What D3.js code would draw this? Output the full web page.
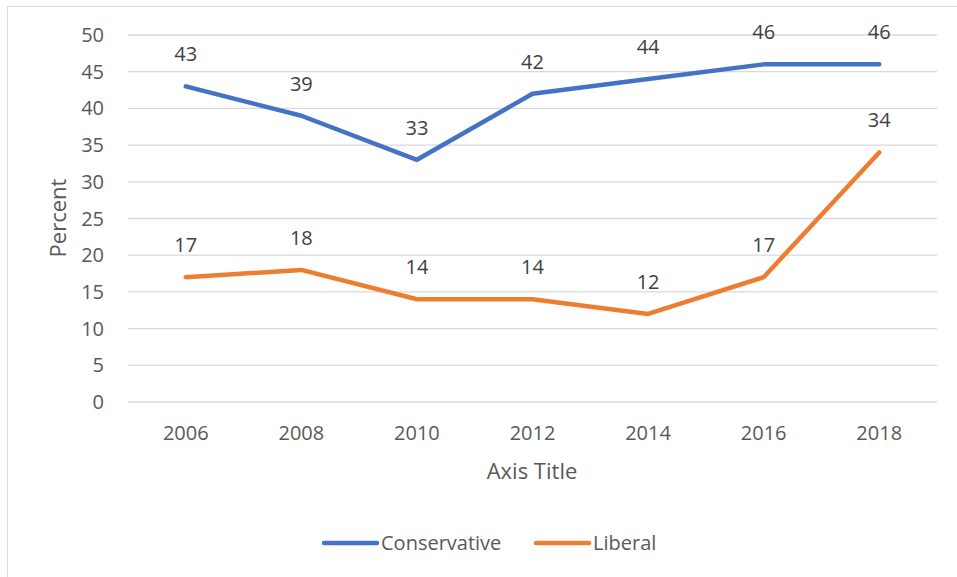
<!DOCTYPE html>
<html lang="en">
<head>
<meta charset="UTF-8">
<title>Chart</title>
<script src="https://d3js.org/d3.v7.min.js"></script>
<style>
  body { margin: 0; background: #fff; }
  text { font-family: "Open Sans", sans-serif; }
</style>
</head>
<body>
<script>
var years = ["2006", "2008", "2010", "2012", "2014", "2016", "2018"];
var conservative = [43, 39, 33, 42, 44, 46, 46];
var liberal = [17, 18, 14, 14, 12, 17, 34];
var yTicks = [0, 5, 10, 15, 20, 25, 30, 35, 40, 45, 50];
var seriesNames = ["Conservative", "Liberal"];
var colors = ["#4472C4", "#ED7D31"];

var width = 957, height = 577;
var svg = d3.select("body").append("svg")
    .attr("width", width)
    .attr("height", height);

// outer chart border
svg.append("rect")
    .attr("x", 7.5).attr("y", 6.5)
    .attr("width", 960).attr("height", 580)
    .attr("fill", "#fff")
    .attr("stroke", "#d9d9d9");

var x = d3.scaleBand().domain(years).range([128, 937]);
var y = d3.scaleLinear().domain([0, 50]).range([402, 35]);

// gridlines
svg.append("g").selectAll("line")
    .data(yTicks)
    .enter().append("line")
    .attr("x1", 128).attr("x2", 937)
    .attr("y1", d => y(d)).attr("y2", d => y(d))
    .attr("stroke", "#d9d9d9")
    .attr("stroke-width", 1.3);

// y axis labels
svg.append("g").selectAll("text")
    .data(yTicks)
    .enter().append("text")
    .attr("x", 104)
    .attr("y", d => y(d))
    .attr("dy", "0.35em")
    .attr("text-anchor", "end")
    .attr("font-size", 20)
    .attr("fill", "#595959")
    .text(d => d);

// x axis labels
svg.append("g").selectAll("text")
    .data(years)
    .enter().append("text")
    .attr("x", d => x(d) + x.bandwidth() / 2)
    .attr("y", 433)
    .attr("dy", "0.35em")
    .attr("text-anchor", "middle")
    .attr("font-size", 20)
    .attr("fill", "#595959")
    .text(d => d);

// axis titles
svg.append("text")
    .attr("x", 532).attr("y", 471)
    .attr("dy", "0.35em")
    .attr("text-anchor", "middle")
    .attr("font-size", 22)
    .attr("fill", "#595959")
    .text("Axis Title");

svg.append("text")
    .attr("transform", "translate(58,218) rotate(-90)")
    .attr("dy", "0.35em")
    .attr("text-anchor", "middle")
    .attr("font-size", 22)
    .attr("fill", "#595959")
    .text("Percent");

var line = d3.line()
    .x((d, i) => x(years[i]) + x.bandwidth() / 2)
    .y(d => y(d));

[conservative, liberal].forEach(function (vals, k) {
    svg.append("path")
        .datum(vals)
        .attr("d", line)
        .attr("fill", "none")
        .attr("stroke", colors[k])
        .attr("stroke-width", 4.5)
        .attr("stroke-linecap", "round")
        .attr("stroke-linejoin", "round");

    svg.append("g").selectAll("text")
        .data(vals)
        .enter().append("text")
        .attr("x", (d, i) => x(years[i]) + x.bandwidth() / 2)
        .attr("y", d => y(d) - 32)
        .attr("dy", "0.35em")
        .attr("text-anchor", "middle")
        .attr("font-size", 20)
        .attr("fill", "#404040")
        .text(d => d);
});

// legend
var legendX = [322, 534];
seriesNames.forEach(function (name, k) {
    svg.append("line")
        .attr("x1", legendX[k] + 2).attr("x2", legendX[k] + 55)
        .attr("y1", 543).attr("y2", 543)
        .attr("stroke", colors[k])
        .attr("stroke-width", 4.5)
        .attr("stroke-linecap", "round");
    svg.append("text")
        .attr("x", legendX[k] + 59)
        .attr("y", 543)
        .attr("dy", "0.35em")
        .attr("font-size", 20)
        .attr("fill", "#595959")
        .text(name);
});
</script>
</body>
</html>
